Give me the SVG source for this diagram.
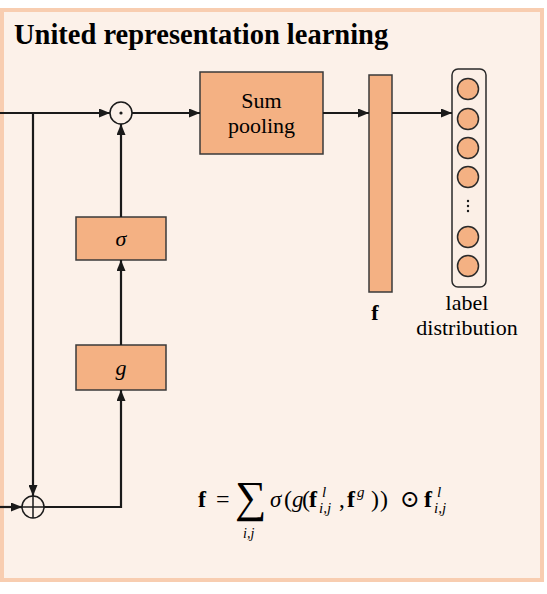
<svg xmlns="http://www.w3.org/2000/svg" width="547" height="594" viewBox="0 0 547 594">
<defs>
<marker id="ah" viewBox="0 0 11 9" refX="11" refY="4.5" markerWidth="11" markerHeight="9" markerUnits="userSpaceOnUse" orient="auto">
<path d="M0,0 L11,4.5 L0,9 z" fill="#1a1a1a"/>
</marker>
</defs>
<style>
.box{fill:#F4B183;stroke:#3a3a3a;stroke-width:1.5}
.ln{fill:none;stroke:#1a1a1a;stroke-width:2.2}
.t{font-family:"Liberation Serif","Times New Roman",serif;fill:#000}
.m{font-family:"Liberation Serif","DejaVu Serif",serif;fill:#000}
.nd{fill:#F4B183;stroke:#2a2a2a;stroke-width:1.5}
</style>
<rect x="2" y="10" width="540" height="570" fill="#FCF1E9" stroke="#F8CDB0" stroke-width="4"/>
<text class="t" x="14" y="44" font-size="28.5" font-weight="bold">United representation learning</text>

<g id="sum-pooling">
<rect class="box" x="200" y="72" width="123" height="82"/>
<text class="t" x="261.5" y="108" font-size="22" text-anchor="middle">Sum</text>
<text class="t" x="261.5" y="133" font-size="22" text-anchor="middle">pooling</text>
</g>
<g id="sigma">
<rect class="box" x="76" y="217" width="90" height="43"/>
<text class="t" x="121" y="246" font-size="22" font-style="italic" text-anchor="middle">σ</text>
</g>
<g id="g">
<rect class="box" x="76" y="345" width="90" height="45"/>
<text class="t" x="121" y="375" font-size="22" font-style="italic" text-anchor="middle">g</text>
</g>
<g id="f-vector">
<rect class="box" x="369" y="75" width="23" height="217"/>
<text class="t" x="375" y="320" font-size="22" font-weight="bold" text-anchor="middle">f</text>
</g>
<g id="label-distribution">
<rect x="452" y="69" width="34" height="218" rx="6" fill="#FBEFE6" stroke="#2a2a2a" stroke-width="1.5"/>
<circle class="nd" cx="468" cy="89" r="10.5"/>
<circle class="nd" cx="468" cy="119" r="10.5"/>
<circle class="nd" cx="468" cy="148" r="10.5"/>
<circle class="nd" cx="468" cy="177" r="10.5"/>
<circle cx="468" cy="201" r="1.2" fill="#1a1a1a"/>
<circle cx="468" cy="206" r="1.2" fill="#1a1a1a"/>
<circle cx="468" cy="211" r="1.2" fill="#1a1a1a"/>
<circle class="nd" cx="468" cy="237" r="10.5"/>
<circle class="nd" cx="468" cy="266" r="10.5"/>
<text class="t" x="467" y="310" font-size="22" text-anchor="middle">label</text>
<text class="t" x="467" y="335" font-size="22" text-anchor="middle">distribution</text>
</g>
<g id="odot">
<circle cx="121" cy="113" r="11" fill="none" stroke="#1a1a1a" stroke-width="1.5"/>
<circle cx="121" cy="113" r="1.6" fill="#1a1a1a"/>
</g>
<g id="oplus">
<circle cx="33" cy="507" r="11" fill="none" stroke="#1a1a1a" stroke-width="1.5"/>
<path d="M22,507 H44 M33,496 V518" stroke="#1a1a1a" stroke-width="1.5"/>
</g>

<g id="connectors">
<path class="ln" d="M0,113 H110" marker-end="url(#ah)"/>
<path class="ln" d="M33,113 V496" marker-end="url(#ah)"/>
<path class="ln" d="M0,507 H22" marker-end="url(#ah)"/>
<path class="ln" d="M44,507 H121 V390" marker-end="url(#ah)"/>
<path class="ln" d="M121,345 V260" marker-end="url(#ah)"/>
<path class="ln" d="M121,217 V124" marker-end="url(#ah)"/>
<path class="ln" d="M132,113 H200" marker-end="url(#ah)"/>
<path class="ln" d="M323,113 H369" marker-end="url(#ah)"/>
<path class="ln" d="M392,113 H452" marker-end="url(#ah)"/>
</g>

<g id="formula" class="m">
<text x="198" y="507" font-size="24" font-weight="bold">f</text>
<text x="216" y="507" font-size="24">=</text>
<text x="235" y="512" font-size="44">∑</text>
<text x="243" y="538" font-size="14" font-style="italic">i,j</text>
<text x="270" y="507" font-size="23" font-style="italic">σ</text>
<text x="284" y="507" font-size="24">(</text>
<text x="292" y="507" font-size="23" font-style="italic">g</text>
<text x="302" y="507" font-size="24">(</text>
<text x="309" y="507" font-size="24" font-weight="bold">f</text>
<text x="322" y="497" font-size="15" font-style="italic">l</text>
<text x="319" y="513" font-size="15" font-style="italic">i,j</text>
<text x="339" y="507" font-size="23">,</text>
<text x="347" y="507" font-size="24" font-weight="bold">f</text>
<text x="357" y="497" font-size="15" font-style="italic">g</text>
<text x="371" y="507" font-size="24">)</text>
<text x="380" y="507" font-size="24">)</text>
<text x="400" y="507" font-size="24">⊙</text>
<text x="424" y="507" font-size="24" font-weight="bold">f</text>
<text x="437" y="497" font-size="15" font-style="italic">l</text>
<text x="434" y="513" font-size="15" font-style="italic">i,j</text>
</g>
</svg>
